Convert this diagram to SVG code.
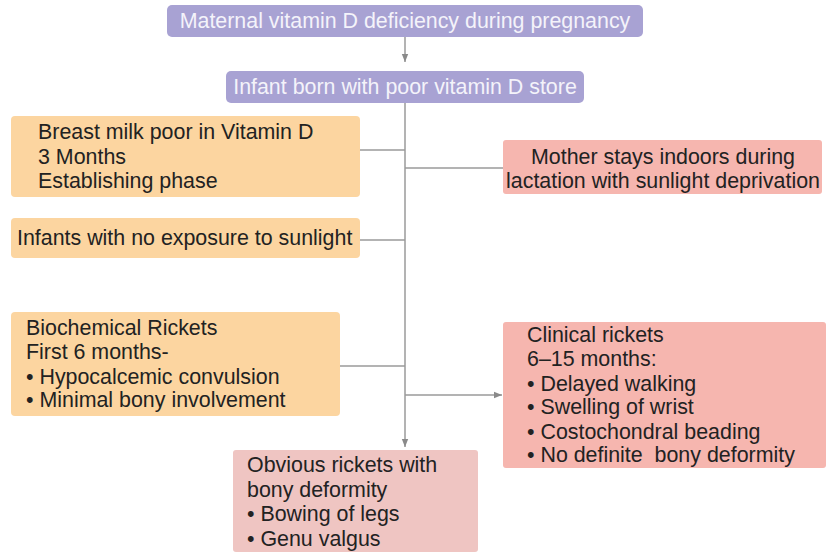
<svg xmlns="http://www.w3.org/2000/svg" width="826" height="552" viewBox="0 0 826 552">
<defs>
<marker id="ah" viewBox="0 0 10 10" refX="10" refY="5" markerWidth="8" markerHeight="8" markerUnits="userSpaceOnUse" orient="auto"><path d="M0,1 L10,5 L0,9 z" fill="#8a8a8a"/></marker>
<style>
.t{font-family:"Liberation Sans",Arial,sans-serif;font-size:21.4px;fill:#222}
.w{font-family:"Liberation Sans",Arial,sans-serif;font-size:21.4px;fill:#f4f3fa}
.pu{fill:#a8a2d3}
.or{fill:#fcd5a0}
.pk{fill:#f6b6af}
.pb{fill:#efc5c2}
.c{stroke:#9a9a9a;stroke-width:1.5;fill:none}
</style>
</defs>
<rect width="826" height="552" fill="#ffffff"/>
<g id="connectors">
<path class="c" d="M405,37 V62" marker-end="url(#ah)"/>
<path class="c" d="M405,103 V447" marker-end="url(#ah)"/>
<path class="c" d="M360,150 H405"/>
<path class="c" d="M405,168 H503"/>
<path class="c" d="M360,240 H405"/>
<path class="c" d="M340,366 H405"/>
<path class="c" d="M405,395 H502" marker-end="url(#ah)"/>
</g>
<g id="n1"><rect class="pu" x="167" y="5" width="476" height="32" rx="5"/><text class="w" x="405" y="28" text-anchor="middle">Maternal vitamin D deficiency during pregnancy</text></g>
<g id="n2"><rect class="pu" x="226" y="71" width="358" height="32" rx="5"/><text class="w" x="405" y="94" text-anchor="middle">Infant born with poor vitamin D store</text></g>
<g id="n3"><rect class="or" x="11" y="116" width="349" height="81" rx="4"/><text class="t" x="38" y="139">Breast milk poor in Vitamin D</text><text class="t" x="38" y="164">3 Months</text><text class="t" x="38" y="188">Establishing phase</text></g>
<g id="n4"><rect class="or" x="11" y="218" width="349" height="40" rx="4"/><text class="t" x="17" y="245">Infants with no exposure to sunlight</text></g>
<g id="n5"><rect class="pk" x="503" y="140" width="319" height="54" rx="3"/><text class="t" x="663" y="164" text-anchor="middle">Mother stays indoors during</text><text class="t" x="663" y="188" text-anchor="middle">lactation with sunlight deprivation</text></g>
<g id="n6"><rect class="or" x="11" y="312" width="329" height="104" rx="4"/><text class="t" x="26" y="335">Biochemical Rickets</text><text class="t" x="26" y="359">First 6 months-</text><text class="t" x="26" y="384">• Hypocalcemic convulsion</text><text class="t" x="26" y="407">• Minimal bony involvement</text></g>
<g id="n7"><rect class="pk" x="503" y="322" width="323" height="146" rx="3"/><text class="t" x="527" y="342">Clinical rickets</text><text class="t" x="527" y="366">6–15 months:</text><text class="t" x="527" y="391">• Delayed walking</text><text class="t" x="527" y="414">• Swelling of wrist</text><text class="t" x="527" y="439">• Costochondral beading</text><text class="t" x="527" y="462">• No definite&#160; bony deformity</text></g>
<g id="n8"><rect class="pb" x="233" y="450" width="245" height="102" rx="3"/><text class="t" x="247" y="472">Obvious rickets with</text><text class="t" x="247" y="497">bony deformity</text><text class="t" x="247" y="521">• Bowing of legs</text><text class="t" x="247" y="546">• Genu valgus</text></g>
</svg>
